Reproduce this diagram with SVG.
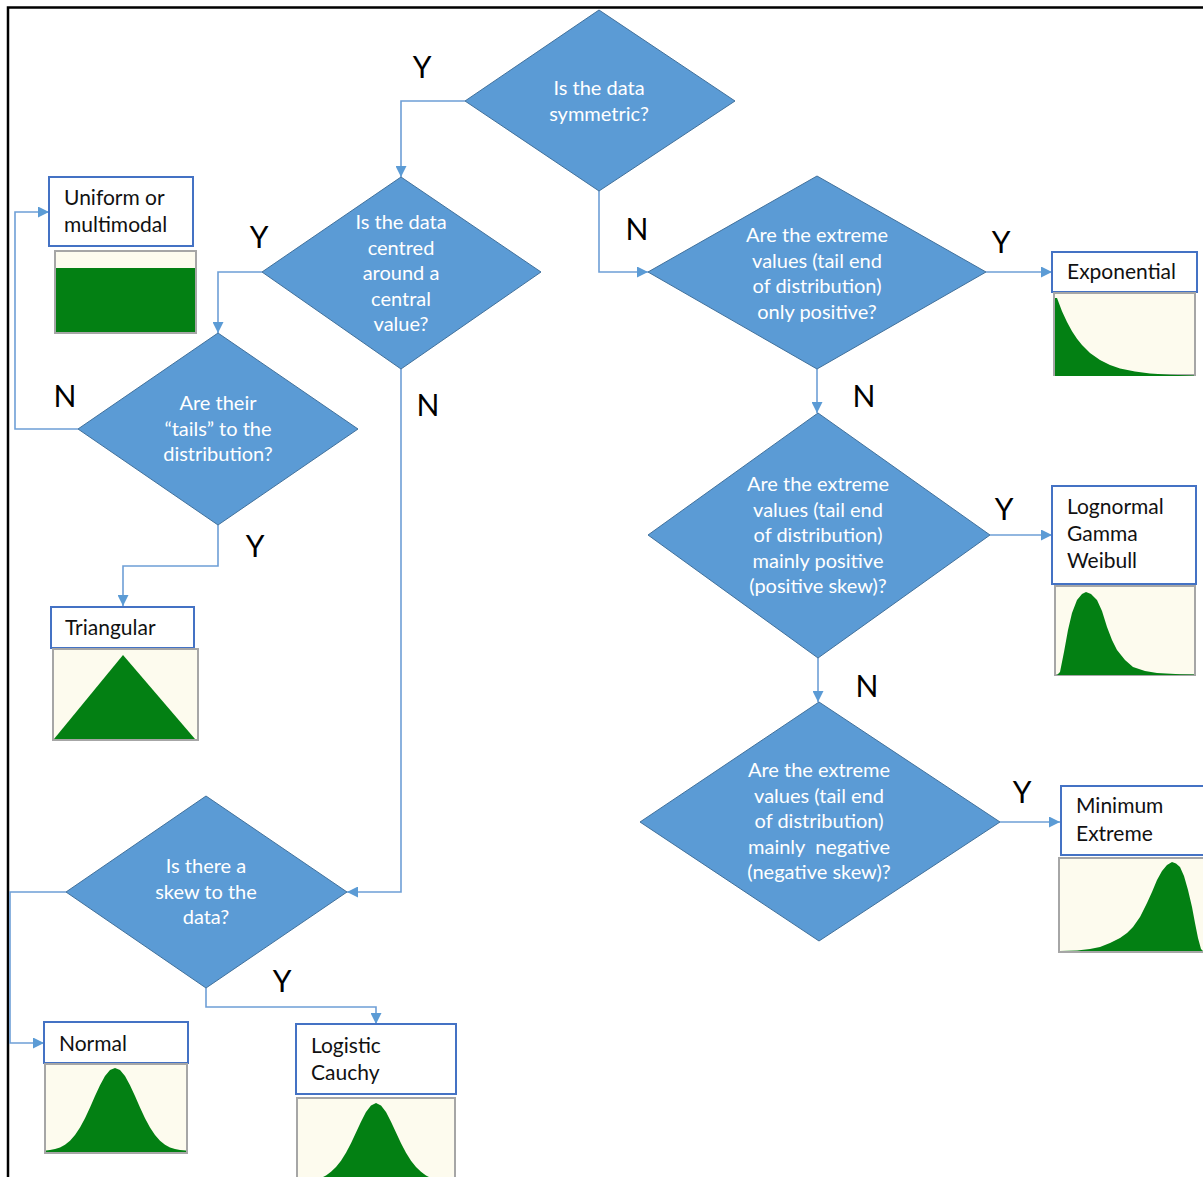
<svg xmlns="http://www.w3.org/2000/svg" width="1203" height="1177" viewBox="0 0 1203 1177">
  <style>
    .dec { fill: #5B9BD5; stroke: #41719C; stroke-width: 1; }
    .q { font-family: Lato, "Open Sans", "Liberation Sans", sans-serif; font-size: 20px; fill: #FFFFFF; text-anchor: middle; }
    .box { fill: #FFFFFF; stroke: #4472C4; stroke-width: 2; }
    .bt { font-family: Lato, "Open Sans", "Liberation Sans", sans-serif; font-size: 21px; fill: #111111; }
    .plot { fill: #FDFBEE; stroke: #A6A6A6; stroke-width: 2; }
    .curve { fill: #038013; }
    .lbl { font-family: Lato, "Liberation Sans", sans-serif; font-size: 30px; fill: #000000; text-anchor: middle; }
    .con { fill: none; stroke: #6E9FD6; stroke-width: 1.6; marker-end: url(#arr); }
  </style>
  <defs>
    <marker id="arr" viewBox="0 0 10 10" refX="10" refY="5" markerWidth="11" markerHeight="11" markerUnits="userSpaceOnUse" orient="auto">
      <path d="M0,0 L10,5 L0,10 Z" fill="#5B9BD5"/>
    </marker>
  </defs>

  <rect width="1203" height="1177" fill="#FFFFFF"/>
  <!-- outer frame (top and left edges) -->
  <path d="M8,1177 V7.5 H1203" fill="none" stroke="#000000" stroke-width="2.5"/>

  <!-- connectors -->
  <g id="connectors">
    <path class="con" d="M465,101 H401 V177"/>
    <path class="con" d="M599,191 V272 H648"/>
    <path class="con" d="M262,272 H218 V333"/>
    <path class="con" d="M401,369 V892 H347"/>
    <path class="con" d="M78,429 H15 V212 H49"/>
    <path class="con" d="M218,525 V566 H123 V606"/>
    <path class="con" d="M66,892 H10 V1043 H44"/>
    <path class="con" d="M206,988 V1007 H376 V1024"/>
    <path class="con" d="M986,272 H1052"/>
    <path class="con" d="M817,369 V413"/>
    <path class="con" d="M990,535 H1052"/>
    <path class="con" d="M818,658 V702"/>
    <path class="con" d="M1000,822 H1060"/>
  </g>

  <!-- branch labels -->
  <g id="labels">
    <text class="lbl" x="422" y="78">Y</text>
    <text class="lbl" x="637" y="240">N</text>
    <text class="lbl" x="259" y="248">Y</text>
    <text class="lbl" x="65" y="407">N</text>
    <text class="lbl" x="428" y="416">N</text>
    <text class="lbl" x="255" y="557">Y</text>
    <text class="lbl" x="282" y="992">Y</text>
    <text class="lbl" x="1001" y="253">Y</text>
    <text class="lbl" x="864" y="407">N</text>
    <text class="lbl" x="1004" y="520">Y</text>
    <text class="lbl" x="867" y="697">N</text>
    <text class="lbl" x="1022" y="803">Y</text>
  </g>

  <!-- decisions -->
  <g id="symmetric">
    <polygon class="dec" points="599,10 735,101 599,191 465,101"/>
    <text class="q" x="599" y="95">Is the data</text>
    <text class="q" x="599" y="121">symmetric?</text>
  </g>
  <g id="centred">
    <polygon class="dec" points="401,177 541,272 401,369 262,272"/>
    <text class="q" x="401" y="229">Is the data</text>
    <text class="q" x="401" y="255">centred</text>
    <text class="q" x="401" y="280">around a</text>
    <text class="q" x="401" y="306">central</text>
    <text class="q" x="401" y="331">value?</text>
  </g>
  <g id="tails">
    <polygon class="dec" points="218,333 358,429 218,525 78,429"/>
    <text class="q" x="218" y="410">Are their</text>
    <text class="q" x="218" y="436">“tails” to the</text>
    <text class="q" x="218" y="461">distribution?</text>
  </g>
  <g id="skew">
    <polygon class="dec" points="206,796 347,892 206,988 66,892"/>
    <text class="q" x="206" y="873">Is there a</text>
    <text class="q" x="206" y="899">skew to the</text>
    <text class="q" x="206" y="924">data?</text>
  </g>
  <g id="only-positive">
    <polygon class="dec" points="817,176 986,272 817,369 648,272"/>
    <text class="q" x="817" y="242">Are the extreme</text>
    <text class="q" x="817" y="268">values (tail end</text>
    <text class="q" x="817" y="293">of distribution)</text>
    <text class="q" x="817" y="319">only positive?</text>
  </g>
  <g id="mainly-positive">
    <polygon class="dec" points="818,413 990,535 818,658 648,535"/>
    <text class="q" x="818" y="491">Are the extreme</text>
    <text class="q" x="818" y="517">values (tail end</text>
    <text class="q" x="818" y="542">of distribution)</text>
    <text class="q" x="818" y="568">mainly positive</text>
    <text class="q" x="818" y="593">(positive skew)?</text>
  </g>
  <g id="mainly-negative">
    <polygon class="dec" points="819,702 1000,822 819,941 640,822"/>
    <text class="q" x="819" y="777">Are the extreme</text>
    <text class="q" x="819" y="803">values (tail end</text>
    <text class="q" x="819" y="828">of distribution)</text>
    <text class="q" x="819" y="854" xml:space="preserve">mainly  negative</text>
    <text class="q" x="819" y="879">(negative skew)?</text>
  </g>

  <!-- outcomes -->
  <g id="uniform">
    <rect class="box" x="49" y="177" width="144" height="69"/>
    <text class="bt" x="64" y="205">Uniform or</text>
    <text class="bt" x="64" y="232">multimodal</text>
    <rect class="plot" x="55" y="251" width="141" height="82"/>
    <rect class="curve" x="56" y="268" width="139" height="64"/>
  </g>
  <g id="triangular">
    <rect class="box" x="51" y="607" width="143" height="41"/>
    <text class="bt" x="65" y="635">Triangular</text>
    <rect class="plot" x="53" y="649" width="145" height="91"/>
    <polygon class="curve" points="54,739 123,655 195,739"/>
  </g>
  <g id="normal">
    <rect class="box" x="44" y="1022" width="144" height="41"/>
    <text class="bt" x="59" y="1051">Normal</text>
    <rect class="plot" x="45" y="1064" width="142" height="89"/>
    <path class="curve" d="M46,1150.5 L50,1149.9 L55,1149 L60,1147.4 L65,1144.7 L70,1140.8 L75,1135.1 L80,1127.6 L85,1118.2 L90,1107.5 L95,1096.1 L100,1085.2 L105,1076.1 L110,1070.1 L115,1068 L120,1070.1 L125,1076.1 L130,1085.2 L135,1096.1 L140,1107.5 L145,1118.2 L150,1127.6 L155,1135.1 L160,1140.8 L165,1144.7 L170,1147.4 L175,1149 L180,1149.9 L186,1150.5 L186,1152 L46,1152 Z"/>
  </g>
  <g id="logistic">
    <rect class="box" x="296" y="1024" width="160" height="70"/>
    <text class="bt" x="311" y="1053">Logistic</text>
    <text class="bt" x="311" y="1080">Cauchy</text>
    <rect class="plot" x="297" y="1098" width="158" height="90"/>
    <path class="curve" d="M298,1183 L306,1182.5 L316,1180 L321,1178.1 L326,1175.4 L331,1171.7 L336,1166.9 L341,1160.7 L346,1152.8 L351,1143.2 L356,1132.6 L361,1121.8 L366,1112.1 L371,1105.4 L376,1103 L381,1105.4 L386,1112.1 L391,1121.8 L396,1132.6 L401,1143.2 L406,1152.8 L411,1160.7 L416,1166.9 L421,1171.7 L426,1175.4 L431,1178.1 L441,1182 L454,1183 L454,1187 L298,1187 Z"/>
  </g>
  <g id="exponential">
    <rect class="box" x="1052" y="252" width="145" height="40"/>
    <text class="bt" x="1067" y="279">Exponential</text>
    <rect class="plot" x="1054" y="293" width="141" height="82"/>
    <path class="curve" d="M1055,298 L1057,298 L1062,311.2 L1067,322.1 L1072,331.2 L1077,338.8 L1082,345.1 L1090,353 L1100,360.1 L1110,365 L1120,368.4 L1135,371.6 L1150,373.5 L1170,374.8 L1194,375.5 L1194,375 L1194,376 L1055,376 Z"/>
  </g>
  <g id="lognormal">
    <rect class="box" x="1052" y="486" width="144" height="98"/>
    <text class="bt" x="1067" y="514">Lognormal</text>
    <text class="bt" x="1067" y="541">Gamma</text>
    <text class="bt" x="1067" y="568">Weibull</text>
    <rect class="plot" x="1055" y="586" width="140" height="89"/>
    <path class="curve" d="M1057,675 L1060,672 L1064,652 L1068,630 L1072,613 L1077,600 L1082,594 L1086,592 L1091,594 L1097,600 L1102,611 L1107,627 L1112,640 L1117,650 L1125,660 L1133,667 L1145,671 L1157,673 L1180,674.3 L1194,674.6 L1194,675 L1057,675 Z"/>
  </g>
  <g id="minimum-extreme">
    <rect class="box" x="1061" y="786" width="150" height="69"/>
    <text class="bt" x="1076" y="813">Minimum</text>
    <text class="bt" x="1076" y="841">Extreme</text>
    <rect class="plot" x="1059" y="858" width="152" height="94"/>
    <path class="curve" d="M1060,951 L1077,950.5 L1090,949 L1100,947 L1110,943 L1120,938 L1127,933 L1133,927 L1140,917 L1147,903 L1152,892 L1157,880 L1162,871 L1167,865 L1172,862 L1176,863.5 L1180,867 L1184,876 L1188,890 L1192,907 L1195,923 L1198,938 L1201,949 L1203,951 Z"/>
  </g>
</svg>
